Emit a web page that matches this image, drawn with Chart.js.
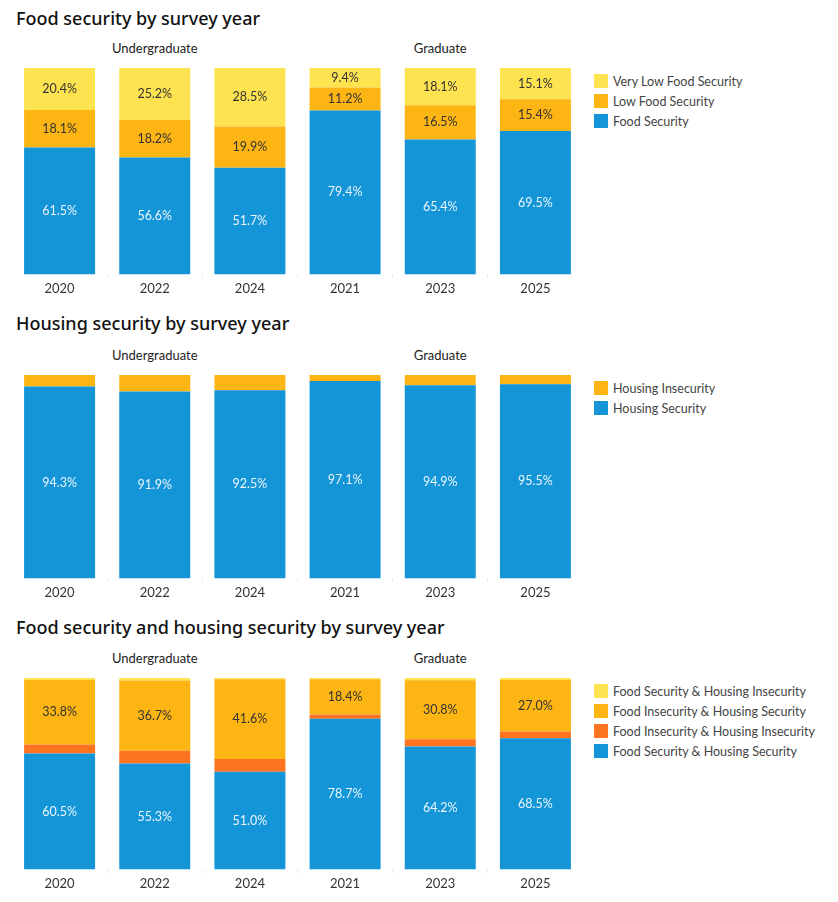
<!DOCTYPE html>
<html>
<head>
<meta charset="utf-8">
<script src="https://cdn.jsdelivr.net/npm/chart.js@4.4.1/dist/chart.umd.min.js"></script>
<style>
  body { margin: 0; background: #fff; font-family: Lato, "Noto Sans", sans-serif; }
  .page { position: relative; width: 838px; height: 902px; }
  .title { position: absolute; left: 16px; font-size: 18px; font-weight: 500; color: #111; line-height: 22px; font-family: "Noto Sans", Lato, sans-serif; }
  .group { position: absolute; font-size: 13px; color: #222; line-height: 16px; transform: translateX(-50%); white-space: nowrap; }
  .chartbox { position: absolute; left: 12px; width: 571px; }
  .legend { position: absolute; left: 594px; font-size: 12.5px; color: #444; }
  .legend div { height: 20px; display: flex; align-items: center; }
  .legend span { display: inline-block; width: 14px; height: 14px; margin-right: 5px; }
</style>
</head>
<body>
<div class="page" id="page"></div>
<script>
const years = ['2020', '2022', '2024', '2021', '2023', '2025'];
const groups = ['Undergraduate', 'Graduate'];

// food security
const foodSecure = [61.5, 56.6, 51.7, 79.4, 65.4, 69.5];
const lowFood = [18.1, 18.2, 19.9, 11.2, 16.5, 15.4];
const veryLowFood = [20.4, 25.2, 28.5, 9.4, 18.1, 15.1];

// housing security
const housingSecure = [94.3, 91.9, 92.5, 97.1, 94.9, 95.5];
const housingInsecure = [5.7, 8.1, 7.5, 2.9, 5.1, 4.5];

// combined
const fsHs = [60.5, 55.3, 51.0, 78.7, 64.2, 68.5];
const fiHi = [4.7, 6.7, 6.7, 2.2, 3.8, 3.5];
const fiHs = [33.8, 36.7, 41.6, 18.4, 30.8, 27.0];
const fsHi = [1.0, 1.3, 0.7, 0.7, 1.2, 1.0];

const BLUE = '#1395d7', ORANGE = '#fdb514', YELLOW = '#fee350', RED = '#fe7420';
const PLOT_W = 571;

const panels = [
    {
        title: 'Food security by survey year', titleY: 7, groupY: 40, top: 68, height: 205,
        series: [
            { label: 'Food Security', data: foodSecure, color: BLUE, text: '#eaf5fc' },
            { label: 'Low Food Security', data: lowFood, color: ORANGE, text: '#333' },
            { label: 'Very Low Food Security', data: veryLowFood, color: YELLOW, text: '#333' }
        ]
    },
    {
        title: 'Housing security by survey year', titleY: 312, groupY: 347, top: 375, height: 202,
        series: [
            { label: 'Housing Security', data: housingSecure, color: BLUE, text: '#eaf5fc' },
            { label: 'Housing Insecurity', data: housingInsecure, color: ORANGE, text: '#333' }
        ]
    },
    {
        title: 'Food security and housing security by survey year', titleY: 616, groupY: 650, top: 678, height: 190,
        series: [
            { label: 'Food Security & Housing Security', data: fsHs, color: BLUE, text: '#eaf5fc' },
            { label: 'Food Insecurity & Housing Insecurity', data: fiHi, color: RED, text: '#333' },
            { label: 'Food Insecurity & Housing Security', data: fiHs, color: ORANGE, text: '#333' },
            { label: 'Food Security & Housing Insecurity', data: fsHi, color: YELLOW, text: '#333' }
        ]
    }
];

// percentage labels centred inside segments (small ones skipped)
const segmentLabels = {
    id: 'segmentLabels',
    afterDatasetsDraw(chart) {
        const ctx = chart.ctx;
        ctx.save();
        ctx.font = '12.5px Lato, "Noto Sans", sans-serif';
        ctx.textAlign = 'center';
        ctx.textBaseline = 'middle';
        chart.data.datasets.forEach((ds, i) => {
            chart.getDatasetMeta(i).data.forEach((bar, j) => {
                const v = ds.data[j];
                if (v < 9) return;
                ctx.fillStyle = ds.textColor;
                ctx.fillText(v.toFixed(1) + '%', bar.x, (bar.y + bar.base) / 2);
            });
        });
        ctx.restore();
    }
};

function addDiv(cls, style, html) {
    const el = document.createElement('div');
    el.className = cls;
    Object.assign(el.style, style);
    el.innerHTML = html;
    document.getElementById('page').appendChild(el);
    return el;
}

function renderPanel(p) {
    addDiv('title', { top: p.titleY + 'px' }, p.title);
    const catW = PLOT_W / years.length;
    groups.forEach((g, i) => {
        addDiv('group', { top: p.groupY + 'px', left: (12 + catW * (1.5 + i * 3)) + 'px' }, g);
    });

    const legend = addDiv('legend', { top: (p.top + 3) + 'px' }, '');
    legend.innerHTML = p.series.slice().reverse().map(s =>
        `<div><span style="background:${s.color}"></span>${s.label}</div>`).join('');

    const box = addDiv('chartbox', { top: p.top + 'px', height: (p.height + 27) + 'px' }, '<canvas></canvas>');
    new Chart(box.querySelector('canvas'), {
        type: 'bar',
        data: {
            labels: years,
            datasets: p.series.map(s => ({
                label: s.label,
                data: s.data,
                backgroundColor: s.color,
                textColor: s.text,
                borderWidth: 0,
                barPercentage: 0.746,
                categoryPercentage: 1
            }))
        },
        options: {
            responsive: true,
            maintainAspectRatio: false,
            animation: false,
            layout: { padding: 0 },
            plugins: { legend: { display: false }, tooltip: { enabled: false } },
            scales: {
                x: {
                    stacked: true,
                    border: { display: false },
                    grid: { offset: true, drawOnChartArea: false, drawTicks: true, tickLength: 4, color: '#eeeeee' },
                    ticks: { color: '#333', padding: 3, font: { family: 'Lato, "Noto Sans", sans-serif', size: 13 } }
                },
                y: { stacked: true, display: false, min: 0, max: 100 }
            }
        },
        plugins: [segmentLabels]
    });
}

panels.forEach(renderPanel);
</script>
</body>
</html>
